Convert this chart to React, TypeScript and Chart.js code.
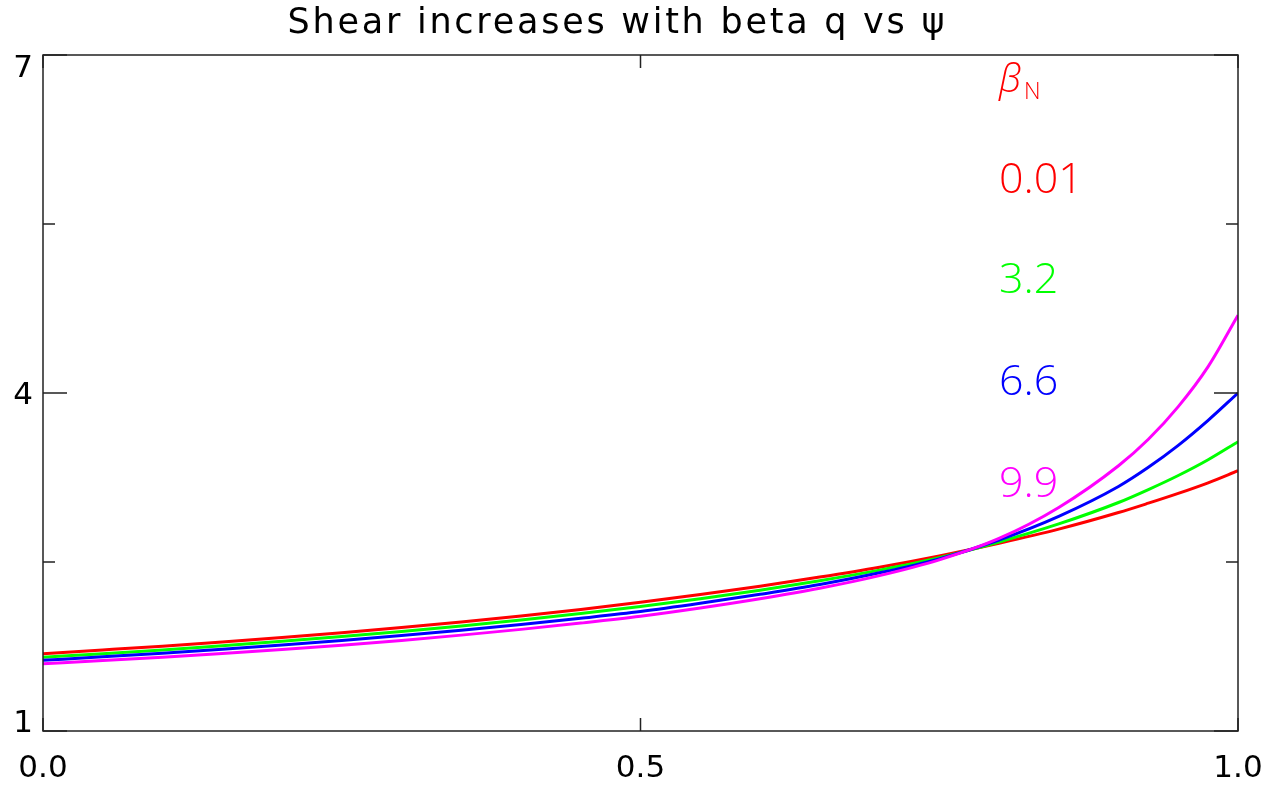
import { useEffect, useRef } from 'react';
import { Chart, registerables } from 'chart.js';

Chart.register(...registerables);

// Normalised flux psi (finer near the edge where q rises steeply)
const psiValues = [
  0, 0.05, 0.1, 0.15, 0.2, 0.25, 0.3, 0.35, 0.4, 0.45, 0.5, 0.55, 0.6, 0.65, 0.7, 0.75, 0.8, 0.85, 0.9,
  0.925, 0.95, 0.975, 1.0,
];

// Safety factor q for each beta_N
const qBeta001 = [
  1.686, 1.719, 1.753, 1.79, 1.83, 1.872, 1.918, 1.968, 2.021, 2.079, 2.142, 2.211, 2.285, 2.366, 2.454,
  2.554, 2.667, 2.792, 2.939, 3.022, 3.109, 3.203, 3.31,
];
const qBeta32 = [
  1.654, 1.686, 1.72, 1.757, 1.796, 1.838, 1.883, 1.932, 1.985, 2.043, 2.105, 2.174, 2.25, 2.334, 2.428,
  2.538, 2.678, 2.838, 3.028, 3.143, 3.268, 3.408, 3.568,
];
const qBeta66 = [
  1.627, 1.658, 1.691, 1.726, 1.764, 1.804, 1.848, 1.895, 1.946, 2.001, 2.06, 2.133, 2.213, 2.3, 2.404,
  2.528, 2.695, 2.905, 3.17, 3.34, 3.535, 3.757, 4.0,
];
const qBeta99 = [
  1.597, 1.625, 1.655, 1.687, 1.723, 1.762, 1.804, 1.851, 1.902, 1.958, 2.019, 2.092, 2.174, 2.267, 2.379,
  2.519, 2.709, 2.984, 3.354, 3.589, 3.879, 4.234, 4.69,
];

const betaLabels = ['0.01', '3.2', '6.6', '9.9'];
const seriesColors = ['#ff0000', '#00ff00', '#0000ff', '#ff00ff'];

const xMajorTicks = [0, 0.5, 1.0];
const xTickLabels = ['0.0', '0.5', '1.0'];
const yMajorTicks = [1, 4, 7];
const yMinorTicks = [2.5, 5.5];
const yTickLabels = ['1', '4', '7'];

const chartTitle = 'Shear increases with beta q vs \u03c8';

const FONT = '"DejaVu Sans", "Open Sans", sans-serif';
const LEGEND_FONT = '"Open Sans", "DejaVu Sans", sans-serif';

function drawFitted(ctx: CanvasRenderingContext2D, text: string, cx: number, y: number, width: number) {
  const c = ctx as any;
  c.letterSpacing = '0px';
  const natural = ctx.measureText(text).width;
  const spacing = (width - natural) / Math.max(1, text.length - 1);
  if ('letterSpacing' in c && spacing > 0) {
    c.letterSpacing = spacing + 'px';
    ctx.textAlign = 'left';
    ctx.fillText(text, cx - width / 2, y);
    c.letterSpacing = '0px';
  } else {
    ctx.textAlign = 'center';
    ctx.fillText(text, cx, y);
  }
}

const framePlugin = {
  id: 'idlFrame',
  afterDatasetsDraw(chart: any) {
    const { ctx, chartArea, scales } = chart;
    const xs = scales.x;
    const ys = scales.y;
    const { left, right, top, bottom } = chartArea;
    ctx.save();

    // plot box
    ctx.strokeStyle = '#222';
    ctx.lineWidth = 1.5;
    ctx.strokeRect(left, top, right - left, bottom - top);

    // inward ticks on all four sides
    ctx.beginPath();
    xMajorTicks.forEach((v) => {
      const px = xs.getPixelForValue(v);
      ctx.moveTo(px, bottom);
      ctx.lineTo(px, bottom - 13);
      ctx.moveTo(px, top);
      ctx.lineTo(px, top + 13);
    });
    yMajorTicks.forEach((v) => {
      const py = ys.getPixelForValue(v);
      ctx.moveTo(left, py);
      ctx.lineTo(left + 24, py);
      ctx.moveTo(right, py);
      ctx.lineTo(right - 24, py);
    });
    yMinorTicks.forEach((v) => {
      const py = ys.getPixelForValue(v);
      ctx.moveTo(left, py);
      ctx.lineTo(left + 12, py);
      ctx.moveTo(right, py);
      ctx.lineTo(right - 12, py);
    });
    ctx.stroke();

    // tick labels
    ctx.fillStyle = '#000';
    ctx.font = `31px ${FONT}`;
    ctx.textBaseline = 'alphabetic';
    ctx.textAlign = 'center';
    xMajorTicks.forEach((v, i) => {
      ctx.fillText(xTickLabels[i], xs.getPixelForValue(v), bottom + 46);
    });
    ctx.textAlign = 'right';
    const capH = 22;
    yMajorTicks.forEach((v, i) => {
      const py = ys.getPixelForValue(v);
      let base = py + capH / 2;
      if (i === 0) base = py + 1;
      if (i === yMajorTicks.length - 1) base = py + capH;
      ctx.fillText(yTickLabels[i], left - 10, base);
    });

    // title
    ctx.font = `35px ${FONT}`;
    ctx.textBaseline = 'alphabetic';
    drawFitted(ctx, chartTitle, 616, 33, 657);

    // beta_N legend
    const lx = 999;
    ctx.textAlign = 'left';
    ctx.fillStyle = seriesColors[0];
    ctx.font = `italic 300 38px ${LEGEND_FONT}`;
    ctx.fillText('\u03b2', lx, 92);
    ctx.font = `300 23px ${LEGEND_FONT}`;
    ctx.fillText('N', 1024, 99);
    const baselines = [193, 293, 395, 497];
    ctx.font = `300 43px ${LEGEND_FONT}`;
    betaLabels.forEach((t, i) => {
      ctx.fillStyle = seriesColors[i];
      ctx.fillText(t, lx, baselines[i]);
    });

    ctx.restore();
  },
};

export default function App() {
  const canvasRef = useRef<HTMLCanvasElement | null>(null);

  useEffect(() => {
    document.body.style.margin = '0';
    const canvas = canvasRef.current;
    if (!canvas) return;
    const series = [qBeta001, qBeta32, qBeta66, qBeta99];
    const chart = new Chart(canvas, {
      type: 'line',
      data: {
        datasets: series.map((vals, i) => ({
          label: betaLabels[i],
          data: psiValues.map((x, j) => ({ x, y: vals[j] })),
          borderColor: seriesColors[i],
          borderWidth: 3,
          pointRadius: 0,
          fill: false,
          cubicInterpolationMode: 'monotone' as const,
          order: series.length - i,
        })),
      },
      options: {
        responsive: false,
        animation: false,
        devicePixelRatio: 1,
        layout: { padding: { left: 43, right: 32, top: 55, bottom: 56 } },
        scales: {
          x: { type: 'linear', min: 0, max: 1, display: false },
          y: { type: 'linear', min: 1, max: 7, display: false },
        },
        plugins: {
          legend: { display: false },
          title: { display: false },
          tooltip: { enabled: false },
        },
      },
      plugins: [framePlugin],
    });
    return () => chart.destroy();
  }, []);

  return (
    <div style={{ position: 'absolute', left: 0, top: 0, width: 1270, height: 787, background: '#fff' }}>
      <canvas ref={canvasRef} width={1270} height={787} />
    </div>
  );
}
